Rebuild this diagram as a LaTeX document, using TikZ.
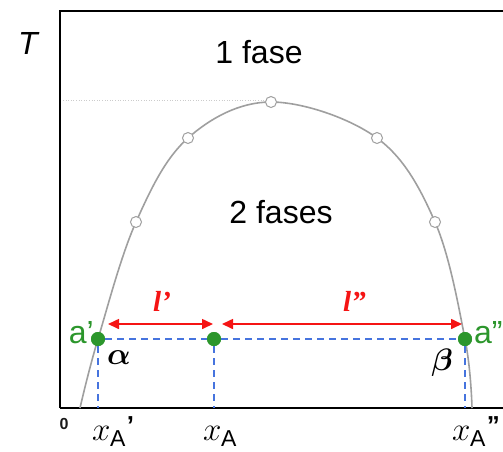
\RequirePackage{fix-cm}
\documentclass[tikz,border=0pt]{standalone}
\usepackage{amsmath}
\usepackage{fontspec}
\setmainfont{Liberation Sans}
\newfontfamily\timesfont{Liberation Serif}
\usepackage{tikz}
\usetikzlibrary{arrows.meta, positioning, calc}

\definecolor{ptgreen}{RGB}{44,150,44}
\definecolor{guideblue}{RGB}{70,116,222}
\definecolor{leverred}{RGB}{245,20,20}

\newcommand{\sz}[1]{\fontsize{#1}{#1}\selectfont}
\newcommand{\xlab}[1]{{\sz{33}$x$}\kern-0.5pt\raisebox{-6pt}{\sz{23}A}\kern1.5pt\raisebox{6pt}{\sz{26}\bfseries #1}}

\begin{document}
\begin{tikzpicture}[x=1pt, y=-1pt,
  every node/.style={inner sep=0pt},
  axis/.style={line width=2.6pt},
  curve/.style={gray!75, line width=1.6pt},
  hollow/.style={circle, draw=gray!75, fill=white, line width=1pt, minimum size=11pt},
  comp/.style={circle, fill=ptgreen, minimum size=14pt},
  guide/.style={draw=guideblue, line width=1.2pt, dash pattern=on 7pt off 5pt},
  lever/.style={leverred, line width=1.6pt, {Triangle[length=11pt,width=10pt]}-{Triangle[length=11pt,width=10pt]}},
  big/.style={font=\sz{32}},
  leverlbl/.style={anchor=base west, text=leverred, font=\timesfont\bfseries\itshape\sz{29}},
  complbl/.style={text=ptgreen, font=\sz{32}},
  greek/.style={font=\sz{31}}
]
\useasboundingbox (0,0) rectangle (503,451);

% frame
\draw[axis] (60,408) -- (60,11) -- (504,11);
\draw[axis] (60,408) -- (504,408);
\draw[gray!40, line width=0.6pt, dotted] (63,100) -- (270,100);

% two phase boundary
\draw[curve] plot[smooth, tension=0.6] coordinates {(80,408) (98,339) (136,222) (188,138) (271,102) (377,138) (435,222) (465,339) (472,408)};
\node[hollow] (c1) at (136,222) {};
\node[hollow] (c2) at (188,138) {};
\node[hollow] (c3) at (271,102) {};
\node[hollow] (c4) at (377,138) {};
\node[hollow] (c5) at (435,222) {};

% tie line
\coordinate (ap0) at (98,408);
\coordinate (xa0) at (214,408);
\coordinate (as0) at (465,408);
\node[comp] (ap) at (98,339) {};
\node[comp] (xa) at (214,339) {};
\node[comp] (as) at (465,339) {};
\draw[guide] (ap) -- (xa) -- (as);
\draw[guide] (ap) -- (ap0);
\draw[guide] (xa) -- (xa0);
\draw[guide] (as) -- (as0);
\node[comp] at (ap) {};
\node[comp] at (xa) {};
\node[comp] at (as) {};

\coordinate (l1a) at (108,324);
\coordinate (l1b) at (213,324);
\coordinate (l2a) at (222,324);
\coordinate (l2b) at (462,324);
\draw[lever] (l1a) -- (l1b);
\draw[lever] (l2a) -- (l2b);
\node[leverlbl] (lp) at (153,311) {l’};
\node[leverlbl] (lpp) at (343,311) {l”};

% labels
\node[complbl, anchor=base east] (apl) at (94,343) {a’};
\node[complbl, anchor=base west] (asl) at (474,343) {a”};
\node[greek] (alpha) at (119,358) {$\boldsymbol{\alpha}$};
\node[greek] (beta) at (442,363) {$\boldsymbol{\beta}$};

\node[big, font=\itshape\sz{32}] (T) at (28,43) {T};
\node[big] (one) at (259,52) {1 fase};
\node[big] (two) at (281,212) {2 fases};
\node[font=\bfseries\sz{16}, text=gray!20!black] (zero) at (64,424) {0};

\node[anchor=base west] (x1) at (92,440) {\xlab{’}};
\node[anchor=base west] (x2) at (203,440) {\xlab{}};
\node[anchor=base west] (x3) at (452,440) {\xlab{”}};
\end{tikzpicture}
\end{document}
